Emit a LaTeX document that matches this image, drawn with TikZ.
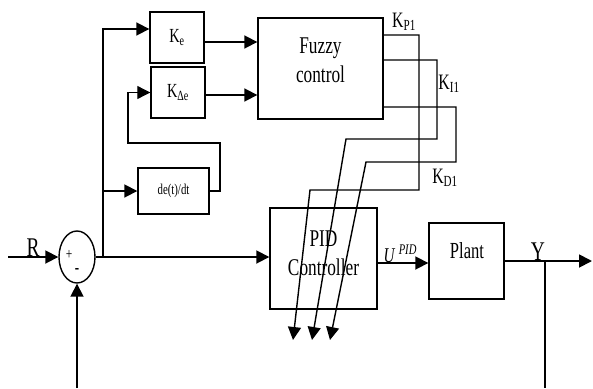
\documentclass[tikz,border=0pt]{standalone}
\usepackage{fontspec}
\setmainfont{Liberation Serif}[FakeStretch=0.72]
\usetikzlibrary{positioning, arrows.meta, shapes.geometric}

\tikzset{
  blk/.style={draw, line width=1.4pt, inner sep=0pt},
  sig/.style={line width=1.8pt, -{Triangle[length=13pt,width=13pt]}},
  wire/.style={line width=1.8pt},
  thinwire/.style={line width=1.1pt},
  bigtxt/.style={font=\fontsize{24}{29}\selectfont, align=center},
  gaintxt/.style={font=\fontsize{20}{22}\selectfont},
  sigtxt/.style={font=\fontsize{27}{29}\selectfont},
}

\begin{document}
\begin{tikzpicture}[x=1pt, y=-1pt]
\useasboundingbox (0,0) rectangle (593,388);

% blocks
\node[blk, minimum width=54pt, minimum height=51pt, gaintxt] (ke) at (177,37.5) {K\textsubscript{e}};
\node[blk, minimum width=54pt, minimum height=51pt, gaintxt] (kde) at (178,92.5) {K\textsubscript{Δe}};
\node[blk, minimum width=125pt, minimum height=101pt] (fuzzy) at (320.5,68.5) {};
\node[bigtxt] (fuzzylbl) at ([yshift=8pt]fuzzy.center) {Fuzzy\\control};
\node[blk, minimum width=71pt, minimum height=46pt, font=\fontsize{15}{17}\selectfont] (dedt) at (173.5,191) {de(t)/dt};
\node[blk, minimum width=107pt, minimum height=101pt] (pid) at (323.5,258.5) {};
\node[bigtxt] (pidlbl) at ([yshift=5pt]pid.center) {PID\\Controller};
\node[blk, minimum width=75pt, minimum height=76pt] (plant) at (466.5,261) {};
\node[bigtxt, font=\fontsize{23}{27}\selectfont] (plantlbl) at (467,251) {Plant};

% summing junction
\node[blk, ellipse, minimum width=36pt, minimum height=52pt] (sum) at (77,257) {};
\node[font=\fontsize{16}{16}\selectfont] (plus) at (69,255) {+};
\node[font=\fontsize{18}{18}\selectfont\bfseries] (minus) at (77,271) {-};

% input and error path
\coordinate (rin) at (8,257);
\draw[sig] (rin) -- (sum.west);
\node[sigtxt, anchor=base] (rlbl) at (33,256) {R};
\coordinate (br) at ([xshift=7pt]sum.east);
\draw[sig] (sum.east) -- (sum.east -| pid.west);
\draw[sig] (br) |- ([yshift=8.5pt]ke.west);
\draw[sig] (br) |- (dedt.west);

% derivative loop
\coordinate (dright) at (220,143);
\coordinate (dleft) at (128,143);
\draw[sig, line width=1.1pt] (dedt.east) -| (dright) -- (dleft) |- (kde.west);

% gains into fuzzy block
\draw[sig] ([yshift=-4.5pt]ke.east) -- ([yshift=-4.5pt]ke.east -| fuzzy.west);
\draw[sig] ([yshift=-2.5pt]kde.east) -- ([yshift=-2.5pt]kde.east -| fuzzy.west);

% fuzzy outputs to PID
\coordinate (kpcorner) at (419,190);
\coordinate (kpbend) at (310,190);
\coordinate (kpend) at (293,340);
\coordinate (kicorner) at (437,139);
\coordinate (kibend) at (346,139);
\coordinate (kiend) at (312,340);
\coordinate (kdcorner) at (456,162);
\coordinate (kdbend) at (366,162);
\coordinate (kdend) at (330,340);
\draw[sig, line width=1.4pt] ([yshift=33.5pt]fuzzy.east) -| (kpcorner) -- (kpbend) -- (kpend);
\draw[sig, line width=1.4pt] ([yshift=8.5pt]fuzzy.east) -| (kicorner) -- (kibend) -- (kiend);
\draw[sig, line width=1.4pt] ([yshift=-38.5pt]fuzzy.east) -| (kdcorner) -- (kdbend) -- (kdend);
\node[gaintxt, font=\fontsize{22}{24}\selectfont] (kplbl) at (404,22) {K\textsubscript{P1}};
\node[gaintxt, font=\fontsize{22}{24}\selectfont] (kilbl) at (449,84) {K\textsubscript{I1}};
\node[gaintxt, font=\fontsize{22}{24}\selectfont] (kdlbl) at (445,178) {K\textsubscript{D1}};

% plant and output
\draw[sig] ([yshift=-4.5pt]pid.east) -- ([yshift=-4.5pt]pid.east -| plant.west);
\node[anchor=base west, font=\fontsize{21}{23}\selectfont] (ulbl) at (380,262) {\textit{U}\,\textsuperscript{\textit{PID}}};
\coordinate (yout) at (592,261);
\draw[sig] (plant.east) -- (yout);
\node[sigtxt, anchor=base] (ylbl) at (538,260) {Y};

% feedback
\coordinate (ytap) at (545,261);
\coordinate (ybot) at (545,388);
\draw[thinwire] (ytap) -- (ybot);
\coordinate (fbot) at (77,388);
\draw[sig] (fbot) -- (sum.south);
\end{tikzpicture}
\end{document}
